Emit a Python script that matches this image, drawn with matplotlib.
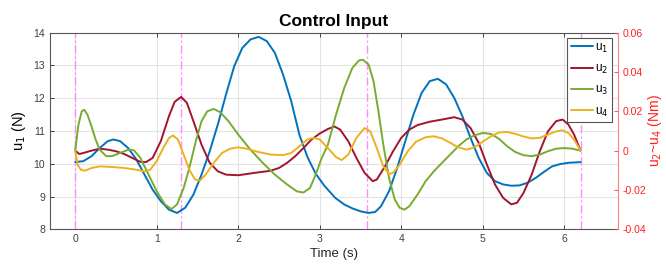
import numpy as np
import matplotlib
matplotlib.use('Agg')
import matplotlib.pyplot as plt

plt.rcParams['font.family'] = ['Liberation Sans', 'DejaVu Sans']

#u1 thrust (left axis, N)
t1 = [0, 0.1, 0.2, 0.3, 0.4, 0.47, 0.55, 0.65, 0.75, 0.85,
      0.95, 1.05, 1.15, 1.25, 1.35, 1.45, 1.55, 1.65, 1.75, 1.85,
      1.95, 2.05, 2.15, 2.25, 2.35, 2.45, 2.55, 2.65, 2.75, 2.85,
      2.95, 3.05, 3.19, 3.3, 3.4, 3.5, 3.6, 3.68, 3.75, 3.85,
      3.95, 4.05, 4.15, 4.25, 4.35, 4.45, 4.55, 4.65, 4.75, 4.85,
      4.95, 5.05, 5.15, 5.25, 5.35, 5.45, 5.55, 5.65, 5.75, 5.85,
      5.95, 6.05, 6.2]
u1 = [10.05, 10.08, 10.23, 10.48, 10.69, 10.74, 10.69, 10.48, 10.13, 9.67,
      9.21, 8.86, 8.6, 8.5, 8.66, 9.06, 9.67, 10.38, 11.2, 12.11,
      12.97, 13.53, 13.79, 13.87, 13.74, 13.38, 12.72, 11.91, 10.89, 10.2,
      9.7, 9.35, 8.96, 8.76, 8.64, 8.55, 8.5, 8.53, 8.7, 9.16,
      9.87, 10.69, 11.5, 12.16, 12.52, 12.59, 12.42, 12.01, 11.45, 10.79,
      10.18, 9.72, 9.47, 9.37, 9.33, 9.34, 9.42, 9.57, 9.75, 9.92,
      9.99, 10.03, 10.05]

#u2..u4 torques (right axis, Nm)
t2 = [0, 0.05, 0.1, 0.2, 0.3, 0.4, 0.5, 0.6, 0.7, 0.8,
      0.87, 0.95, 1.05, 1.15, 1.22, 1.3, 1.37, 1.45, 1.55, 1.65,
      1.75, 1.85, 2.0, 2.2, 2.4, 2.5, 2.6, 2.7, 2.8, 2.9,
      3.0, 3.1, 3.18, 3.25, 3.35, 3.45, 3.55, 3.65, 3.7, 3.8,
      3.9, 4.0, 4.1, 4.2, 4.35, 4.5, 4.65, 4.75, 4.85, 4.95,
      5.05, 5.15, 5.25, 5.35, 5.42, 5.5, 5.6, 5.7, 5.8, 5.9,
      5.98, 6.05, 6.12, 6.2]
u2 = [0, -0.0017, -0.0012, 0, 0.001, 0.0005, -0.0003, -0.0017, -0.0037, -0.0057,
      -0.0058, -0.0037, 0.0048, 0.0175, 0.0248, 0.0273, 0.0243, 0.015, 0.003, -0.0062,
      -0.0105, -0.0122, -0.0125, -0.0113, -0.0102, -0.0088, -0.0062, -0.0028, 0.0013, 0.0057,
      0.0087, 0.011, 0.0123, 0.0107, 0.0048, -0.0037, -0.0113, -0.0155, -0.0147, -0.008,
      -0.0003, 0.0065, 0.0107, 0.013, 0.0147, 0.0158, 0.017, 0.0158, 0.0115, 0.004,
      -0.007, -0.0172, -0.024, -0.0273, -0.0265, -0.0215, -0.0122, -0.0003, 0.0098, 0.015,
      0.0158, 0.0133, 0.0082, 0]

t3 = [0, 0.04, 0.08, 0.11, 0.15, 0.2, 0.25, 0.3, 0.38, 0.45,
      0.55, 0.65, 0.72, 0.8, 0.9, 1.0, 1.1, 1.18, 1.25, 1.33,
      1.4, 1.48, 1.55, 1.62, 1.7, 1.78, 1.88, 2.0, 2.15, 2.3,
      2.45, 2.6, 2.72, 2.8, 2.88, 2.95, 3.02, 3.1, 3.2, 3.3,
      3.4, 3.48, 3.53, 3.6, 3.66, 3.72, 3.78, 3.85, 3.92, 3.98,
      4.04, 4.1, 4.2, 4.3, 4.4, 4.5, 4.6, 4.7, 4.8, 4.9,
      5.0, 5.1, 5.2, 5.3, 5.4, 5.5, 5.6, 5.7, 5.8, 5.9,
      6.0, 6.1, 6.2]
u3 = [0, 0.0133, 0.02, 0.0208, 0.0183, 0.0123, 0.0057, 0.0005, -0.0028, -0.0028,
      -0.0012, 0.0005, 0.0002, -0.0037, -0.0122, -0.0207, -0.0273, -0.0297, -0.0273, -0.019,
      -0.0088, 0.0048, 0.015, 0.02, 0.0212, 0.0195, 0.015, 0.0082, 0.0005, -0.0062,
      -0.0122, -0.0172, -0.0207, -0.0213, -0.019, -0.0122, -0.0042, 0.003, 0.0183, 0.0318,
      0.042, 0.0458, 0.0462, 0.0437, 0.0353, 0.02, 0.003, -0.0138, -0.0248, -0.029,
      -0.03, -0.0282, -0.0223, -0.0155, -0.0105, -0.0062, -0.002, 0.0022, 0.0057, 0.0078,
      0.009, 0.0085, 0.006, 0.0022, -0.0007, -0.0023, -0.0028, -0.002, -0.0003, 0.001,
      0.0013, 0.001, 0]

t4 = [0, 0.03, 0.07, 0.12, 0.2, 0.3, 0.45, 0.6, 0.75, 0.85,
      0.92, 1.0, 1.08, 1.15, 1.2, 1.26, 1.33, 1.4, 1.47, 1.53,
      1.6, 1.7, 1.8, 1.9, 2.0, 2.1, 2.25, 2.4, 2.55, 2.65,
      2.75, 2.85, 2.92, 3.0, 3.1, 3.2, 3.27, 3.35, 3.45, 3.55,
      3.62, 3.7, 3.78, 3.85, 3.9, 3.98, 4.08, 4.18, 4.3, 4.4,
      4.5, 4.6, 4.7, 4.8, 4.9, 5.0, 5.1, 5.2, 5.3, 5.4,
      5.5, 5.6, 5.7, 5.8, 5.9, 5.98, 6.05, 6.12, 6.2]
u4 = [0, -0.0072, -0.0097, -0.0102, -0.0088, -0.008, -0.0083, -0.0088, -0.0097, -0.0105,
      -0.0097, -0.0053, 0.0013, 0.0065, 0.0077, 0.0057, -0.002, -0.0097, -0.0147, -0.0152,
      -0.0122, -0.0062, -0.0012, 0.001, 0.0017, 0.001, -0.0007, -0.002, -0.0023, -0.0012,
      0.0022, 0.0057, 0.0065, 0.0057, 0.0013, -0.0033, -0.0048, -0.002, 0.0065, 0.0115,
      0.0098, 0.0013, -0.008, -0.0118, -0.0113, -0.0072, -0.0003, 0.0045, 0.0068, 0.0073,
      0.0062, 0.004, 0.0017, 0.0005, 0.0017, 0.0045, 0.0073, 0.0092, 0.0095, 0.0085,
      0.0072, 0.0062, 0.0065, 0.0082, 0.0098, 0.0103, 0.009, 0.0057, 0]

#waypoint times
t_wp = [0, 1.3, 3.58, 6.2]

fig = plt.figure(figsize=(6.66, 2.67), dpi=100)
ax = fig.add_axes([0.075, 0.141, 0.853, 0.737])
ax2 = ax.twinx()

grey = '#262626'
ax.grid(True, color='#e3e3e3', lw=0.8)
ax.set_axisbelow(True)

for tw in t_wp:
    ax.axvline(tw, color='#ff8cff', lw=1.0, ls=(0, (6, 2, 1.5, 2)), zorder=1.5)

kw = dict(lw=1.4, solid_joinstyle='round', solid_capstyle='round')
l1, = ax.plot(t1, u1, color='#0072BD', label='u$_1$', **kw)
l2, = ax2.plot(t2, u2, color='#A2142F', label='u$_2$', **kw)
l3, = ax2.plot(t3, u3, color='#77AC30', label='u$_3$', **kw)
l4, = ax2.plot(t4, u4, color='#EDB120', label='u$_4$', **kw)

ax.set_xlim(-0.31, 6.66)
ax.set_ylim(8, 14)
ax2.set_ylim(-0.04, 0.06)
ax.set_xticks(range(7))
ax.set_yticks(range(8, 15))
ax2.set_yticks([-0.04, -0.02, 0, 0.02, 0.04, 0.06])
ax2.set_yticklabels(['-0.04', '-0.02', '0', '0.02', '0.04', '0.06'])

ax.tick_params(direction='in', length=3, width=0.6, labelsize=7.5, colors=grey,
               labelcolor='#404040', top=True, right=False)
ax2.tick_params(direction='in', length=3, width=0.6, labelsize=7.5, colors='#ff3333',
                labelcolor='#ff2020')

for s in ['left', 'top', 'bottom']:
    ax.spines[s].set_color('#555555')
    ax.spines[s].set_linewidth(0.8)
ax.spines['right'].set_visible(False)
for s in ['left', 'top', 'bottom']:
    ax2.spines[s].set_visible(False)
ax2.spines['right'].set_color('#ff8080')
ax2.spines['right'].set_linewidth(0.8)

ax.set_title('Control Input', fontsize=12.5, fontweight='bold', pad=5)
ax.set_xlabel('Time (s)', fontsize=9.5, color=grey, labelpad=3)
ax.set_ylabel('u$_1$ (N)', fontsize=10.5, color='black', labelpad=4)
ax2.set_ylabel('u$_2$~u$_4$ (Nm)', fontsize=10, color='#ff2020')
ax2.yaxis.set_label_coords(1.05, 0.5)

leg = ax2.legend(handles=[l1, l2, l3, l4], loc='upper right', fontsize=8.5,
                 handlelength=1.9, handletextpad=0.15, labelspacing=0.7,
                 borderpad=0.3, borderaxespad=0, fancybox=False, framealpha=1,
                 edgecolor='#555555', bbox_to_anchor=(0.989, 0.973))
leg.get_frame().set_linewidth(0.8)

fig.savefig('out.png', dpi=100)
